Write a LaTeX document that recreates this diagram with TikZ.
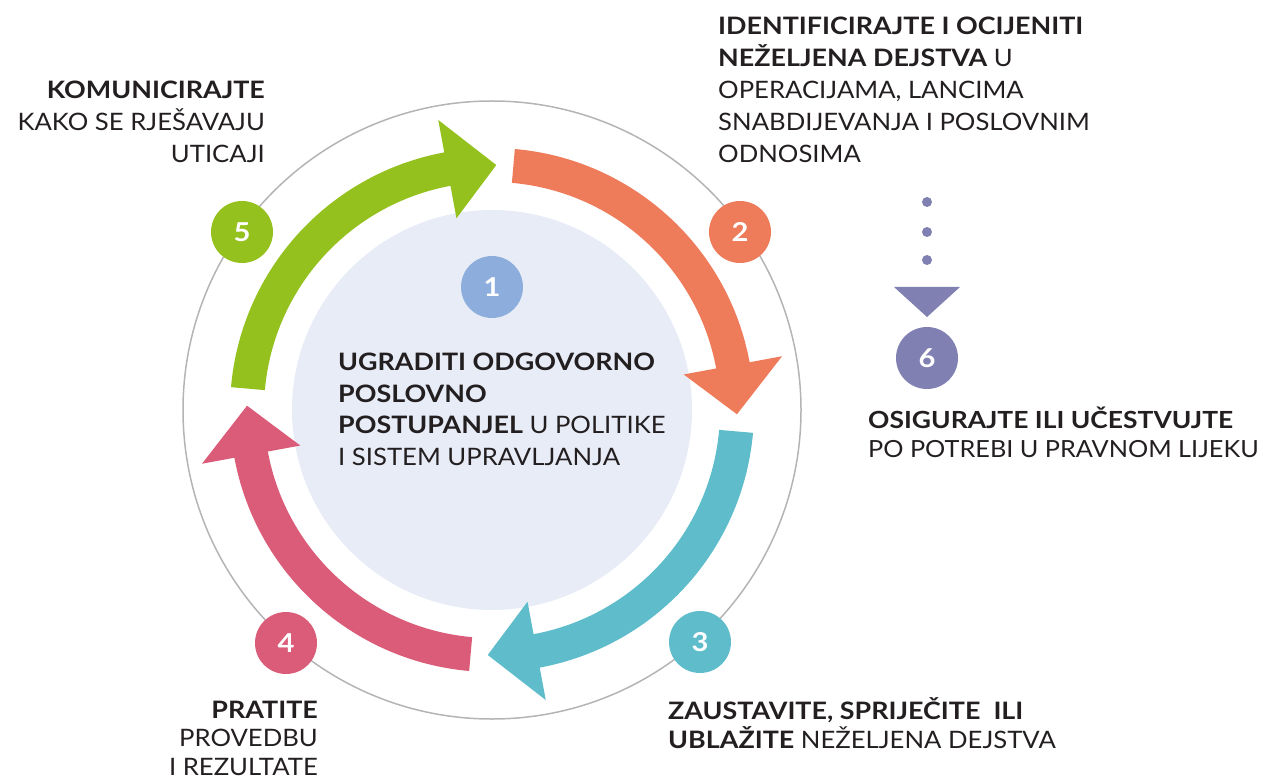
\documentclass[tikz,border=0pt]{standalone}
\usepackage{fontspec}
\setmainfont{Lato}[UprightFeatures={FakeStretch=1.07},BoldFeatures={FakeStretch=1.12}]
\usetikzlibrary{calc}
\definecolor{cgreen}{HTML}{95C11F}
\definecolor{corange}{HTML}{EE7B5A}
\definecolor{cteal}{HTML}{5FBDCB}
\definecolor{cpink}{HTML}{DB5C78}
\definecolor{cpurple}{HTML}{8080B2}
\definecolor{cblue}{HTML}{8DAEDC}
\definecolor{cinner}{HTML}{E8ECF7}
\definecolor{cring}{HTML}{B4B4B4}
\definecolor{ctext}{HTML}{231F20}
\begin{document}
\begin{tikzpicture}[x=1pt,y=1pt,
  numdot/.style={circle,fill=#1,minimum size=62pt,inner sep=0pt,text=white,
    font=\fontsize{26}{26}\selectfont\bfseries},
  label/.style={inner sep=0pt,text=ctext,font=\fontsize{24}{32}\selectfont},
]
\useasboundingbox (0,0) rectangle (1263,-783);
\coordinate (C) at (492,-410);
% outer ring and inner disc
\draw[cring,line width=1.5pt] (C) circle[radius=309];
\fill[cinner] (C) circle[radius=200];
% arrows
\def\ri{228}\def\ro{262}\def\hi{195}\def\ho{295}\def\rm{245}
\foreach \t/\col in {175/cgreen,85/corange,-5/cteal,-95/cpink}{
  \pgfmathsetmacro{\b}{\t-74.5}
  \pgfmathsetmacro{\tp}{\t-86}
  \fill[\col] ($(C)+(\t:\ro)$) arc[start angle=\t,end angle=\b,radius=\ro]
    -- ($(C)+(\b:\ho)$) -- ($(C)+(\tp:\rm)$) -- ($(C)+(\b:\hi)$)
    -- ($(C)+(\b:\ri)$) arc[start angle=\b,end angle=\t,radius=\ri] -- cycle;
}
% numbered dots
\node[numdot=cblue]   (n1) at (492,-287) {1};
\node[numdot=corange] (n2) at (740,-232) {2};
\node[numdot=cteal]   (n3) at (700,-642) {3};
\node[numdot=cpink]   (n4) at (286,-643) {4};
\node[numdot=cgreen]  (n5) at (242,-232) {5};
\node[numdot=cpurple] (n6) at (927,-358) {6};
% dotted pointer to 6
\coordinate (d1) at (927,-202);
\coordinate (d2) at (927,-232);
\coordinate (d3) at (927,-260);
\foreach \d in {d1,d2,d3} \fill[cpurple] (\d) circle[radius=5];
\fill[cpurple] (894,-287) -- (960,-287) -- (927,-317) -- cycle;
% texts (anchored at the baseline of the last line)
\node[label,anchor=base east,align=right] (t5) at (265,-163)
  {\textbf{KOMUNICIRAJTE}\\KAKO SE RJEŠAVAJU\\UTICAJI};
\node[label,anchor=base west,align=left] (t2) at (718,-163)
  {\textbf{IDENTIFICIRAJTE I OCIJENITI}\\\textbf{NEŽELJENA DEJSTVA} U\\OPERACIJAMA, LANCIMA\\SNABDIJEVANJA I POSLOVNIM\\ODNOSIMA};
\node[label,anchor=base west,align=left,font=\fontsize{23.6}{29}\selectfont] (t6) at (868,-457)
  {\textbf{OSIGURAJTE ILI UČESTVUJTE}\\PO POTREBI U PRAVNOM LIJEKU};
\node[label,anchor=base west,align=left,font=\fontsize{24}{28.5}\selectfont] (t3) at (668,-748)
  {\textbf{ZAUSTAVITE, SPRIJEČITE\ \ ILI}\\\textbf{UBLAŽITE} NEŽELJENA DEJSTVA};
\node[label,anchor=base east,align=right,font=\fontsize{24}{28.5}\selectfont] (t4) at (318,-775)
  {\textbf{PRATITE}\\PROVEDBU\\I REZULTATE};
\node[label,anchor=base west,align=left,font=\fontsize{24}{31.5}\selectfont] (t1) at (338,-465)
  {\textbf{UGRADITI ODGOVORNO}\\\textbf{POSLOVNO}\\\textbf{POSTUPANJEL} U POLITIKE\\I SISTEM UPRAVLJANJA};
\end{tikzpicture}
\end{document}
